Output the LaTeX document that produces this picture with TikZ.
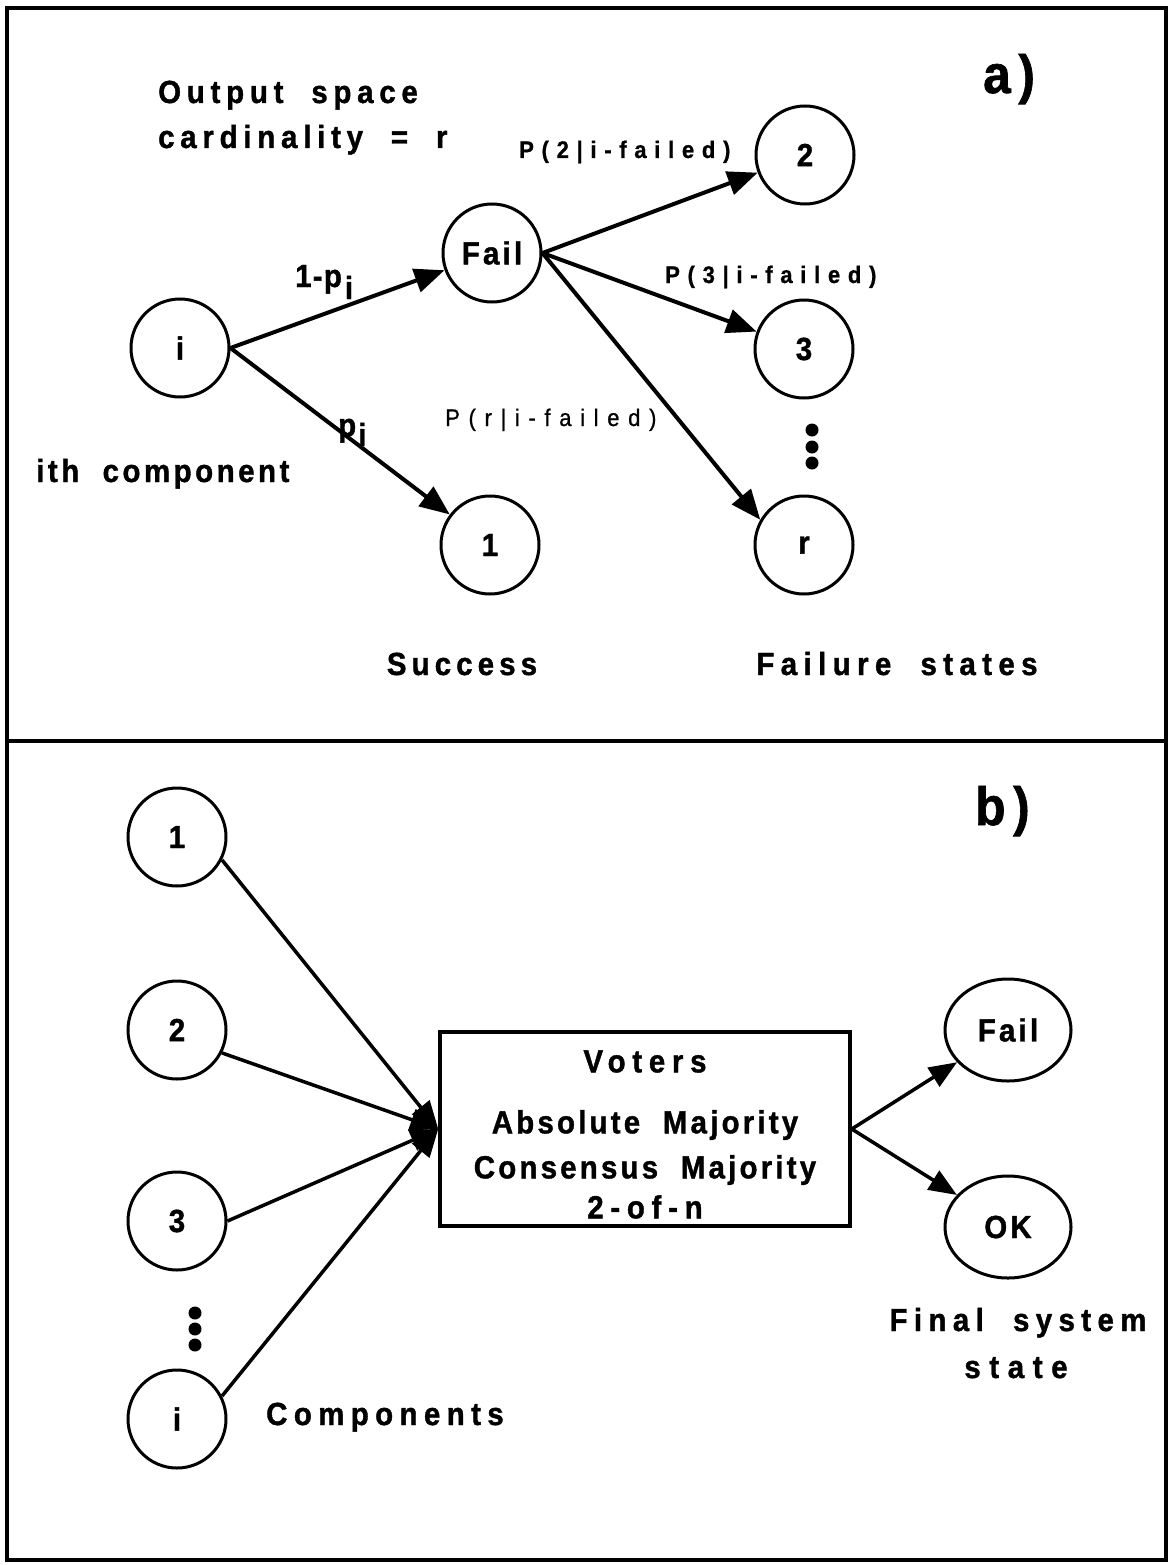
\documentclass[tikz,border=0pt]{standalone}
\usepackage{fontspec}
\setmainfont{Liberation Sans}
\newfontfamily\lblfont[LetterSpace=18, FakeStretch=0.92, FakeBold=1.2, WordSpace=2]{Liberation Sans}
\newfontfamily\probfont[LetterSpace=32, FakeStretch=0.92, FakeBold=0.8, WordSpace=2]{Liberation Sans}
\newfontfamily\boxfont[LetterSpace=10, FakeStretch=0.92, FakeBold=1.2, WordSpace=2]{Liberation Sans}
\usetikzlibrary{arrows.meta,shapes.geometric}

\begin{document}
\begin{tikzpicture}[x=1pt,y=-1pt,
  every node/.style={inner sep=0pt},
  lbl/.style={font=\lblfont\bfseries\fontsize{32pt}{36pt}\selectfont},
  plbl/.style={font=\probfont\bfseries\fontsize{24pt}{28pt}\selectfont},
  plight/.style={font=\probfont\fontsize{24pt}{28pt}\selectfont\addfontfeature{LetterSpace=36}},
  tag/.style={font=\lblfont\bfseries\fontsize{54pt}{58pt}\selectfont\addfontfeature{LetterSpace=14}},
  inlbl/.style={font=\lblfont\bfseries\fontsize{32pt}{36pt}\selectfont\addfontfeature{LetterSpace=10}},
  state/.style={draw, circle, line width=3pt, minimum size=98pt, inlbl},
  oval/.style={draw, ellipse, line width=3pt, minimum width=126pt, minimum height=102pt, inlbl},
  arr/.style={line width=4pt, -{Triangle[length=30pt,width=24pt]}},
  feed/.style={line width=3.5pt, -{Triangle[length=28pt,width=22pt]}},
  votebox/.style={draw, line width=3.5pt, minimum width=410pt, minimum height=194pt,
    align=center, font=\boxfont\bfseries\fontsize{32pt}{43pt}\selectfont},
]
\useasboundingbox (0,0) rectangle (1170,1565);

% outer frame and panel divider
\draw[line width=4.5pt] (7,8) rectangle (1166,1560);
\draw[line width=3.5pt] (7,741) -- (1166,741);

% ---------- panel a: output space of one component ----------
\node[tag, anchor=base west] (taga) at (983,93) {a)};
\node[lbl, anchor=base west] (title1) at (158,103) {Output space};
\node[lbl, anchor=base west] (title2) at (158,148) {cardinality = r};

\node[state] (i) at (180,348) {i};
\node[state] (fail) at (492,253) {Fail};
\node[state] (s1) at (490,545) {1};
\node[state] (f2) at (805,155) {2};
\node[state] (f3) at (804,349) {3};
\node[state] (fr) at (804,545) {r};

\draw[arr] (i.east) -- (fail);
\draw[arr] (i.east) -- (s1);
\draw[arr] (fail.east) -- (f2);
\draw[arr] (fail.east) -- (f3);
\draw[arr] (fail.east) -- (fr.150);

\node[lbl, anchor=base west] (pfail) at (295,287)
  {\addfontfeature{LetterSpace=4}1-p\hspace{3pt}\raisebox{-12pt}{i}};
\node[lbl, anchor=base west] (pok) at (338,436)
  {\addfontfeature{LetterSpace=4}p\hspace{2pt}\raisebox{-10pt}{i}};
\node[plbl, anchor=base west] (p2) at (519,158) {P(2|i-failed)};
\node[plbl, anchor=base west] (p3) at (665,283) {P(3|i-failed)};
\node[plight, anchor=base west] (pr) at (445,426) {P(r|i-failed)};

\fill (812,430) circle (6.5) (812,447) circle (6.5) (812,463) circle (6.5);

\node[lbl, anchor=base west] (ith) at (36,482) {\addfontfeature{LetterSpace=11}ith component};
\node[lbl, anchor=base] (succ) at (462,675) {\addfontfeature{LetterSpace=16}Success};
\node[lbl, anchor=base] (fstates) at (897,675) {\addfontfeature{LetterSpace=20}Failure states};

% ---------- panel b: voting over the components ----------
\node[tag, anchor=base west] (tagb) at (975,825) {b)};

\node[state] (c1) at (177,837) {1};
\node[state] (c2) at (177,1030) {2};
\node[state] (c3) at (177,1221) {3};
\node[state] (ci) at (177,1419) {i};
\fill (195,1313) circle (6.5) (195,1329) circle (6.5) (195,1345) circle (6.5);

\node[votebox] (vote) at (645,1129)
  {\rule{0pt}{33pt}{\addfontfeature{LetterSpace=21}Voters}\\[18pt]Absolute Majority\\[2pt]Consensus Majority\\[-3pt]{\addfontfeature{LetterSpace=21}2-of-n}};

\draw[feed] (c1.-27) -- (vote.west);
\draw[feed] (c2.-27) -- (vote.west);
\draw[feed] (c3.east) -- (vote.west);
\draw[feed] (ci.27) -- (vote.west);

\node[oval] (sfail) at (1008,1030) {Fail};
\node[oval] (sok) at (1008,1227) {OK};
\draw[feed] (vote.east) -- (sfail);
\draw[feed] (vote.east) -- (sok);

\node[lbl, anchor=base west] (comps) at (266,1425) {\addfontfeature{LetterSpace=20}Components};
\node[lbl, anchor=base] (final) at (1018,1331) {\addfontfeature{LetterSpace=20}Final system};
\node[lbl, anchor=base] (finalb) at (1016,1378) {\addfontfeature{LetterSpace=27}state};
\end{tikzpicture}
\end{document}
